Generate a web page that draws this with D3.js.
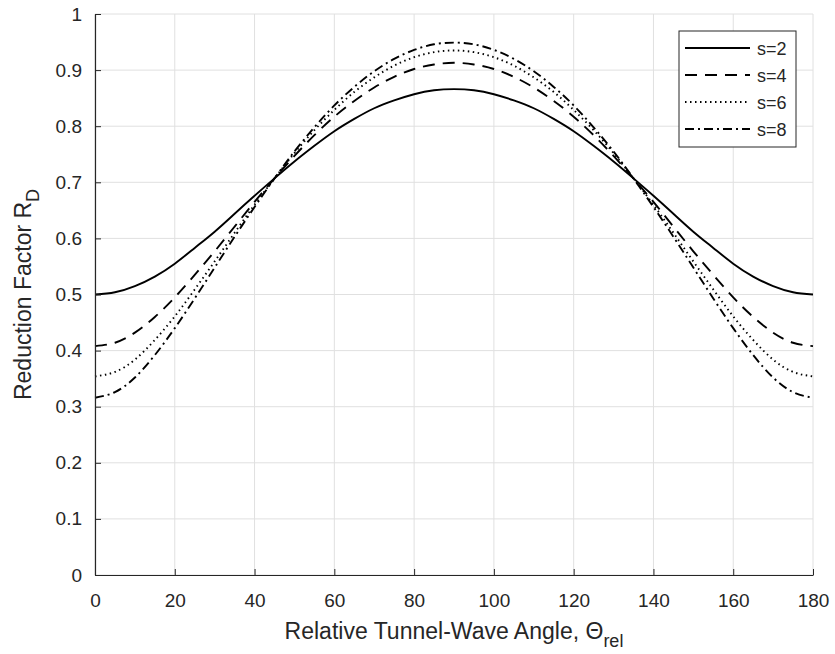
<!DOCTYPE html>
<html>
<head>
<meta charset="utf-8">
<script src="https://cdn.jsdelivr.net/npm/d3@7"></script>
<style>
  body { margin: 0; background: #fff; }
  svg { font-family: "Liberation Sans", Arial, Helvetica, sans-serif; }
</style>
</head>
<body>
<div id="chart"></div>
<script>
// angles in degrees, every 5
const angles = [0, 5, 10, 15, 20, 25, 30, 35, 40, 45, 50, 55, 60, 65, 70, 75, 80, 85, 90,
  95, 100, 105, 110, 115, 120, 125, 130, 135, 140, 145, 150, 155, 160, 165, 170, 175, 180];

// reduction factor
const s2 = [0.500, 0.504, 0.515, 0.532, 0.555, 0.583, 0.612, 0.644, 0.676, 0.707, 0.737, 0.765, 0.791, 0.813, 0.832, 0.846, 0.857, 0.864, 0.866,
  0.864, 0.857, 0.846, 0.832, 0.813, 0.791, 0.765, 0.737, 0.707, 0.676, 0.644, 0.612, 0.583, 0.555, 0.532, 0.515, 0.504, 0.500];
const s4 = [0.408, 0.414, 0.432, 0.460, 0.495, 0.535, 0.577, 0.621, 0.665, 0.707, 0.747, 0.784, 0.817, 0.845, 0.869, 0.888, 0.902, 0.910, 0.913,
  0.910, 0.902, 0.888, 0.869, 0.845, 0.817, 0.784, 0.747, 0.707, 0.665, 0.621, 0.577, 0.535, 0.495, 0.460, 0.432, 0.414, 0.408];
const s6 = [0.354, 0.362, 0.384, 0.419, 0.461, 0.509, 0.559, 0.610, 0.660, 0.707, 0.752, 0.793, 0.829, 0.861, 0.887, 0.908, 0.923, 0.932, 0.935,
  0.932, 0.923, 0.908, 0.887, 0.861, 0.829, 0.793, 0.752, 0.707, 0.660, 0.610, 0.559, 0.509, 0.461, 0.419, 0.384, 0.362, 0.354];
const s8 = [0.316, 0.326, 0.352, 0.392, 0.440, 0.493, 0.548, 0.603, 0.656, 0.707, 0.755, 0.798, 0.837, 0.870, 0.898, 0.920, 0.936, 0.946, 0.949,
  0.946, 0.936, 0.920, 0.898, 0.870, 0.837, 0.798, 0.755, 0.707, 0.656, 0.603, 0.548, 0.493, 0.440, 0.392, 0.352, 0.326, 0.316];

const seriesNames = ['s=2', 's=4', 's=6', 's=8'];
const seriesValues = [s2, s4, s6, s8];
const dashes = ['none', '12,8', '1.5,3.5', '9,4,2,4'];

const xTicks = [0, 20, 40, 60, 80, 100, 120, 140, 160, 180];
const yTicks = [0, 0.1, 0.2, 0.3, 0.4, 0.5, 0.6, 0.7, 0.8, 0.9, 1];

const W = 835, H = 654;
const margin = { top: 14, right: 22, bottom: 79, left: 95 };
const width = W - margin.left - margin.right;
const height = H - margin.top - margin.bottom;
const axisColor = '#262626';

const svg = d3.select('#chart').append('svg')
  .attr('width', W)
  .attr('height', H);

const plot = svg.append('g')
  .attr('transform', `translate(${margin.left},${margin.top})`);

const x = d3.scaleLinear().domain([0, 180]).range([0, width]);
const y = d3.scaleLinear().domain([0, 1]).range([height, 0]);

// grid
plot.append('g')
  .selectAll('line')
  .data(xTicks)
  .join('line')
  .attr('x1', d => x(d)).attr('x2', d => x(d))
  .attr('y1', 0).attr('y2', height)
  .attr('stroke', '#e0e0e0').attr('stroke-width', 1);
plot.append('g')
  .selectAll('line')
  .data(yTicks)
  .join('line')
  .attr('x1', 0).attr('x2', width)
  .attr('y1', d => y(d)).attr('y2', d => y(d))
  .attr('stroke', '#e0e0e0').attr('stroke-width', 1);

// curves
const line = d3.line()
  .x((d, i) => x(angles[i]))
  .y(d => y(d))
  .curve(d3.curveNatural);

seriesValues.forEach((vals, i) => {
  plot.append('path')
    .datum(vals)
    .attr('d', line)
    .attr('fill', 'none')
    .attr('stroke', '#000')
    .attr('stroke-width', 1.9)
    .attr('stroke-dasharray', dashes[i]);
});

// axes, ticks pointing inward
const xAxis = plot.append('g')
  .attr('transform', `translate(0,${height})`)
  .call(d3.axisBottom(x).tickValues(xTicks).tickSizeInner(-6).tickSizeOuter(0).tickPadding(19));
const yAxis = plot.append('g')
  .call(d3.axisLeft(y).tickValues(yTicks).tickFormat(d3.format('')).tickSizeInner(-6).tickSizeOuter(0).tickPadding(13));

[xAxis, yAxis].forEach(a => {
  a.select('.domain').attr('stroke', axisColor).attr('stroke-width', 1.2);
  a.selectAll('.tick line').attr('stroke', axisColor);
  a.selectAll('.tick text')
    .attr('fill', axisColor)
    .style('font-size', '19px')
    .style('font-family', '"Liberation Sans", Arial, sans-serif');
});

// axis titles
const xLabel = svg.append('text')
  .attr('x', margin.left + width / 2)
  .attr('y', 639)
  .attr('text-anchor', 'middle')
  .attr('fill', axisColor)
  .style('font-size', '23px');
xLabel.append('tspan').text('Relative Tunnel-Wave Angle, \u0398');
xLabel.append('tspan').attr('dy', 8).style('font-size', '18px').text('rel');

const yLabel = svg.append('text')
  .attr('transform', `translate(31,${margin.top + height / 2}) rotate(-90)`)
  .attr('text-anchor', 'middle')
  .attr('fill', axisColor)
  .style('font-size', '23px');
yLabel.append('tspan').text('Reduction Factor R');
yLabel.append('tspan').attr('dy', 8).style('font-size', '18px').text('D');

// legend
const legend = svg.append('g').attr('transform', 'translate(679,31)');
legend.append('rect')
  .attr('width', 117).attr('height', 116)
  .attr('fill', '#fff')
  .attr('stroke', axisColor).attr('stroke-width', 1);

seriesNames.forEach((name, i) => {
  const yy = 17 + i * 27;
  legend.append('line')
    .attr('x1', 6).attr('x2', 71)
    .attr('y1', yy).attr('y2', yy)
    .attr('stroke', '#000')
    .attr('stroke-width', 1.9)
    .attr('stroke-dasharray', dashes[i]);
  legend.append('text')
    .attr('x', 78).attr('y', yy + 6.5)
    .attr('fill', axisColor)
    .style('font-size', '18px')
    .text(name);
});
</script>
</body>
</html>
